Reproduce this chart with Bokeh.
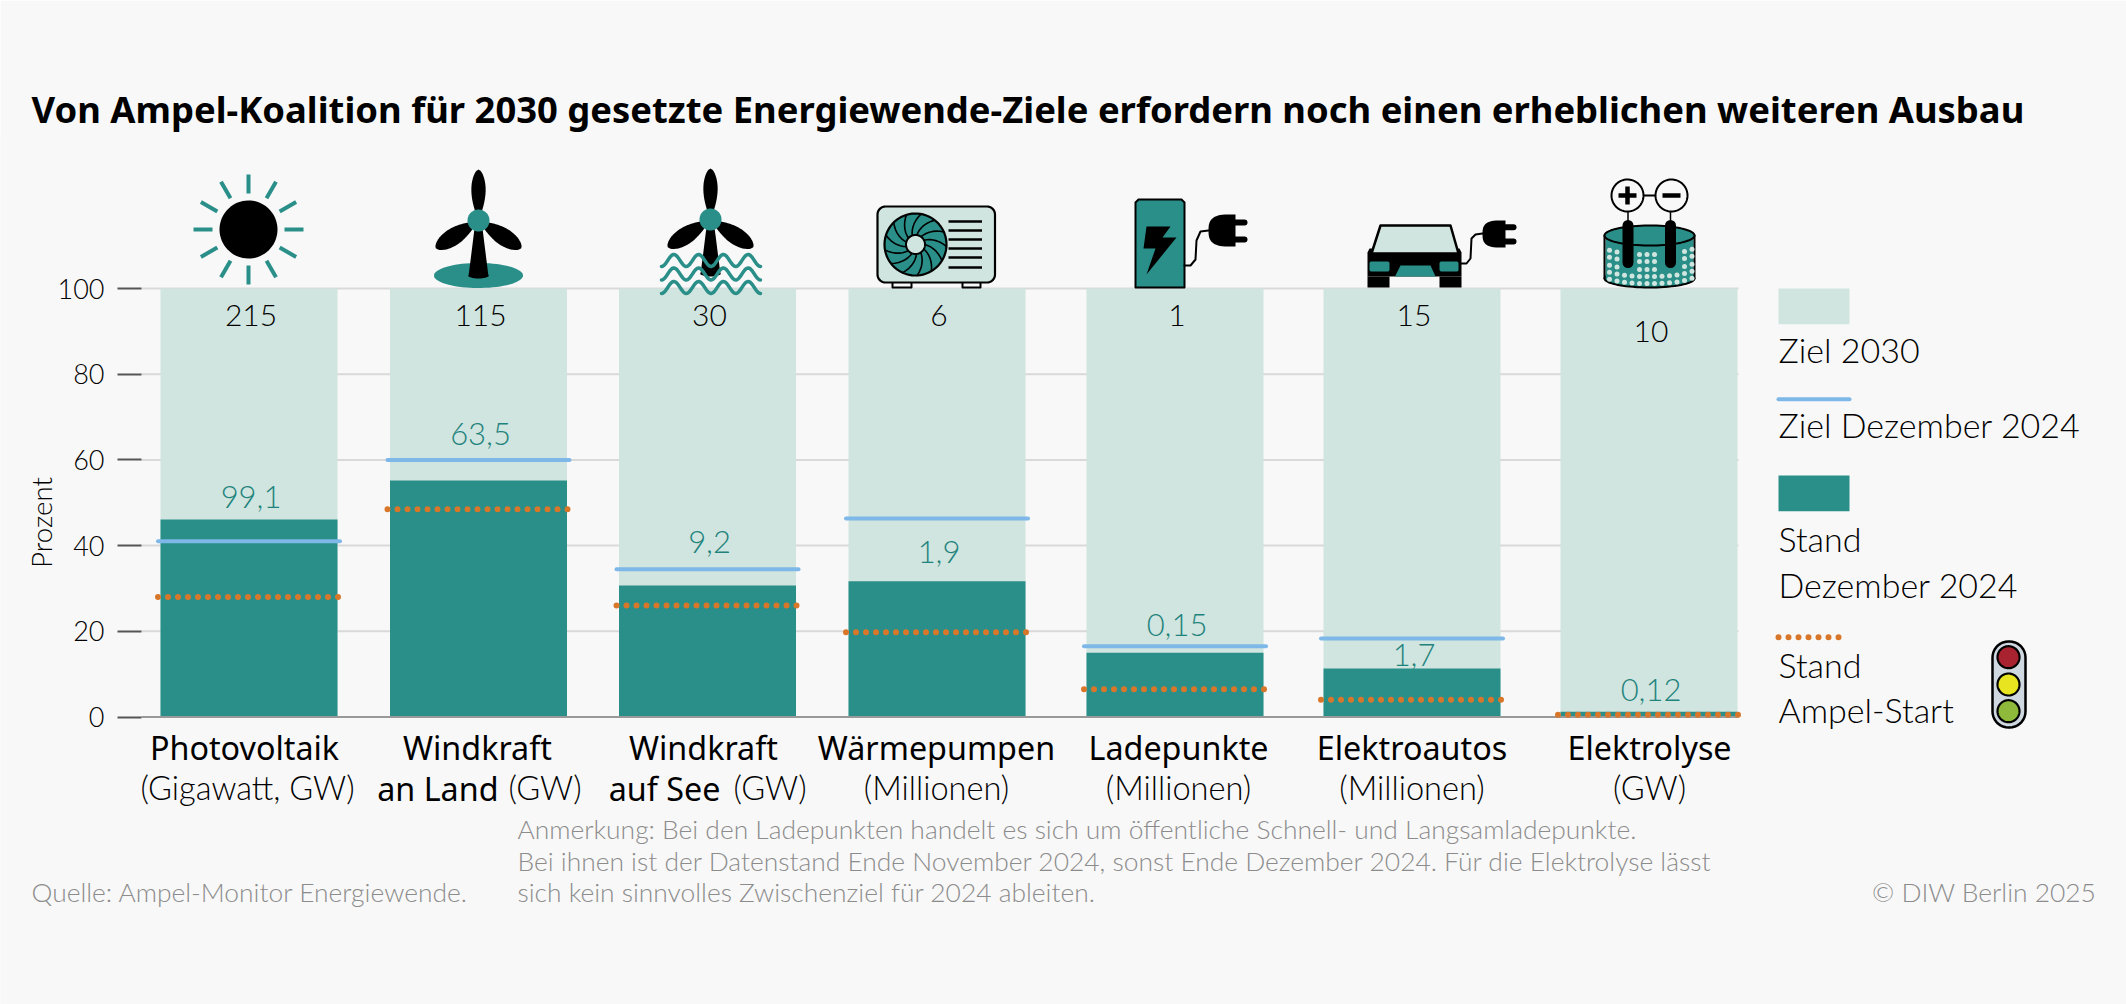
import numpy as np
from bokeh.plotting import figure
from bokeh.models import Range1d, LinearAxis, FixedTicker, Title
from bokeh.core.properties import value
from bokeh.embed import file_html
from bokeh.resources import INLINE

# ---- data
categories = ["Photovoltaik", "Windkraft", "Windkraft", "Wärmepumpen", "Ladepunkte", "Elektroautos", "Elektrolyse"]
units = ["(Gigawatt, GW)", "(GW)", "(GW)", "(Millionen)", "(Millionen)", "(Millionen)", "(GW)"]
ziel_2030_pct = [100, 100, 100, 100, 100, 100, 100]
stand_dez_2024_pct = [46.1, 55.2, 30.7, 31.7, 15.0, 11.3, 1.2]
ziel_dez_2024_pct = [41.0, 60.0, 34.5, 46.3, 16.5, 18.3, None]
stand_ampel_start_pct = [28.0, 48.5, 26.0, 19.8, 6.5, 4.0, 0.5]
ziel_2030_labels = ["215", "115", "30", "6", "1", "15", "10"]
stand_labels = ["99,1", "63,5", "9,2", "1,9", "0,15", "1,7", "0,12"]
y_ticks = [0, 20, 40, 60, 80, 100]

# ---- layout (page pixels)
W, H = 2126, 1004
FT = 134                                  # frame top on the page
AX_X = 141
Y0, Y100 = 716.5, 288.0
bar_centers = [248.5, 478, 707, 936.5, 1174.5, 1411.5, 1648.5]
label_centers = [244, 477, 703, 936, 1178, 1411.5, 1649]
value_label_mid = [496, 433, 541, 551, 624, 654, 689]   # page y of the text centre
target_label_mid = [315, 315, 315, 315, 315, 315, 331]
BAR_W = 177

BG = "#f8f8f8"; LIGHT = "#d0e5df"; TEAL = "#2a8f89"; BLUE = "#7db8e8"; ORANGE = "#d8772a"
INK = "#000000"; GREY = "#8c8c8c"; GRID = "#d9d9d9"; TEAL_TXT = "#1f837d"
FONT = "Lato Light, Lato"
FONT_R = "Noto Sans"

per = (Y0 - Y100) / 100.0
p = figure(width=W, height=H, output_backend="svg", toolbar_location=None,
           x_range=Range1d(0, W),
           y_range=Range1d(-(H - Y0) / per, (Y0 - FT) / per),
           min_border_left=0, min_border_right=0, min_border_top=FT, min_border_bottom=0,
           background_fill_color=BG, border_fill_color=BG, outline_line_color=None,
           x_axis_type=None, y_axis_type=None)
p.extra_y_ranges["page"] = Range1d(H, FT)
p.grid.visible = False

ax = LinearAxis(ticker=FixedTicker(ticks=y_ticks), bounds=(0, 100), axis_line_color=None,
                fixed_location=AX_X,
                major_tick_in=0, major_tick_out=24, minor_tick_line_color=None,
                major_tick_line_color="#555555", major_tick_line_width=2,
                major_label_text_font=FONT, major_label_text_font_size="27px",
                major_label_text_color=INK, major_label_standoff=13)
p.add_layout(ax, "left")

p.title = Title(text="Von Ampel-Koalition für 2030 gesetzte Energiewende-Ziele erfordern noch einen erheblichen weiteren Ausbau",
                text_font=FONT_R, text_font_style="bold", text_font_size="36.4px", text_color="#000000",
                align="left", offset=31, standoff=2)

# ---- gridlines
tick_y = [t for t in y_ticks if t > 0]
p.segment(x0=[AX_X] * len(tick_y), x1=[1738] * len(tick_y), y0=tick_y, y1=tick_y, line_color=GRID, line_width=2)

# ---- bars
p.vbar(x=bar_centers, width=BAR_W, bottom=0, top=ziel_2030_pct, fill_color=LIGHT, line_color=None)
p.vbar(x=bar_centers, width=BAR_W, bottom=0, top=stand_dez_2024_pct, fill_color=TEAL, line_color=None)
p.segment(x0=[AX_X], x1=[1738], y0=[0], y1=[0], line_color="#999999", line_width=2)

idx = [i for i, v in enumerate(ziel_dez_2024_pct) if v is not None]
p.segment(x0=[bar_centers[i] - 91 for i in idx], x1=[bar_centers[i] + 91 for i in idx],
          y0=[ziel_dez_2024_pct[i] for i in idx], y1=[ziel_dez_2024_pct[i] for i in idx],
          line_color=BLUE, line_width=4, line_cap="round")
p.segment(x0=[c - 91 for c in bar_centers], x1=[c + 91 for c in bar_centers],
          y0=stand_ampel_start_pct, y1=stand_ampel_start_pct,
          line_color=ORANGE, line_width=6, line_dash="0 10", line_cap="round")

# ---- helpers on the page range
def mid(x, y, s, size, color=INK, font=FONT, align="left", angle=0.0):
    p.text(x=[x], y=[y], text=[s], y_range_name="page", text_font=value(font), text_font_size=value(f"{size}px"),
           text_color=color, text_align=align, text_baseline="middle", angle=angle)

def txt(x, base, s, size, color=INK, font=FONT, align="left"):
    mid(x, base - 0.36 * size, s, size, color, font, align)

def poly(xs, ys, fill=None, line=None, lw=2):
    p.patch(list(xs), list(ys), y_range_name="page", fill_color=fill, fill_alpha=1 if fill else 0,
            line_color=line, line_width=lw, line_join="round")

def ell(cx, cy, rx, ry, fill=None, line=None, lw=2):
    t = np.linspace(0, 2 * np.pi, 72)
    poly(cx + rx * np.cos(t), cy + ry * np.sin(t), fill, line, lw)

def stroke(xs, ys, color="#000000", lw=2, cap="round"):
    p.line(list(xs), list(ys), y_range_name="page", line_color=color, line_width=lw, line_cap=cap, line_join="round")

def rrect(x0, y0, x1, y1, r, fill=None, line=None, lw=2):
    xs, ys = [], []
    for cx, cy, a in [(x1 - r, y0 + r, -np.pi / 2), (x1 - r, y1 - r, 0), (x0 + r, y1 - r, np.pi / 2), (x0 + r, y0 + r, np.pi)]:
        t = np.linspace(a, a + np.pi / 2, 10)
        xs += list(cx + r * np.cos(t)); ys += list(cy + r * np.sin(t))
    poly(xs, ys, fill, line, lw)

def blade(cx, cy, deg, length, width, start=6):
    a = np.radians(deg)
    d = np.array([np.cos(a), np.sin(a)]); n = np.array([-d[1], d[0]])
    s = np.linspace(0, 1, 40)
    prof = width / 2 * np.sin(np.pi * s ** 1.3) ** 0.55 + 1.5 * (1 - s)
    r = start + s * (length - start)
    left = np.outer(r, d) + np.outer(prof, n)
    right = np.outer(r, d) - np.outer(prof, n)
    pts = np.vstack([left, right[::-1]])
    poly(cx + pts[:, 0], cy + pts[:, 1], "#000000", None)

def turbine(cx, cy, base):
    poly([cx - 3, cx + 3, cx + 10, cx - 10], [cy, cy, base, base], "#000000", None)
    ell(cx, base - 1, 10, 3, "#000000")
    blade(cx, cy, -90, 51, 13)
    blade(cx, cy, 147, 51, 16)
    blade(cx, cy, 33, 51, 16)
    ell(cx, cy, 11, 11, TEAL)

def plug(x0, x1, y0, y1, prong):
    ym = (y0 + y1) / 2; ry = (y1 - y0) / 2
    t = np.linspace(np.pi / 2, 3 * np.pi / 2, 30)
    cx = np.cos(t); sy = np.sin(t)
    px = x1 - 6 + (x1 - x0 - 6) * np.sign(cx) * np.abs(cx) ** 0.7
    py = ym + ry * np.sign(sy) * np.abs(sy) ** 0.7
    poly(list(px) + [x1, x1], list(py) + [y0, y1], "#000000", None)
    for f in (0.25, 0.78):
        y = y0 + f * (y1 - y0)
        stroke([x1, x1 + prong], [y, y], "#000000", 6, "round")

# ---- icons
# sun
for deg in range(0, 360, 30):
    a = np.radians(deg)
    stroke([248 + 36 * np.cos(a), 248 + 55 * np.cos(a)], [229 + 36 * np.sin(a), 229 + 55 * np.sin(a)], TEAL, 4, "butt")
ell(248, 229, 29, 29, "#000000")

# onshore wind
ell(478, 275, 44.5, 12.5, TEAL)
turbine(478, 220, 276)

# offshore wind
turbine(710, 219, 274)
for wy in (260, 273.5, 287):
    sx = np.linspace(661, 760, 90)
    sy = wy + 6 * np.cos(2 * np.pi * (sx - 661) / 24.75)
    stroke(sx, sy, TEAL, 3.5)

# heat pump
rrect(892, 280, 911, 287, 0.1, BG, "#000000", 2)
rrect(962, 280, 980, 287, 0.1, BG, "#000000", 2)
rrect(877, 206, 994.5, 282, 8, LIGHT, "#000000", 2.2)
ell(915, 244, 31, 31, TEAL, "#000000", 2.2)
for k in range(13):
    a = k * 2 * np.pi / 13
    t = np.linspace(0, 1, 8)
    r = 9 + t * 22
    th = a + 0.55 * t
    stroke(915 + r * np.cos(th), 244 + r * np.sin(th), "#000000", 1.6)
ell(915, 244, 9.5, 9.5, LIGHT, "#000000", 2)
for ly in (221, 230, 239, 248, 257, 267):
    stroke([948, 981.5], [ly, ly], "#000000", 2.6, "butt")

# charging point
poly([1135, 1135, 1138, 1181, 1184, 1184], [287, 202, 199, 199, 202, 287], TEAL, "#000000", 2)
poly([1146, 1170, 1162, 1176, 1146, 1155, 1143], [226, 226, 237, 237, 274, 248, 248], "#000000", None)
stroke([1184, 1190, 1195, 1196, 1200, 1208], [265, 265, 259, 240, 231, 230], "#000000", 2)
plug(1208, 1235, 214, 246, 9)

# electric car
stroke([1461, 1466, 1470, 1471, 1475, 1482], [263, 263, 258, 238, 234, 233], "#000000", 2)
plug(1482, 1505, 220, 247, 8)
poly([1367, 1367, 1369, 1459, 1461, 1461], [276, 252, 248, 248, 252, 276], "#000000", None)
poly([1367, 1389, 1389, 1367], [276, 276, 287, 287], "#000000", None)
poly([1439, 1461, 1461, 1439], [276, 276, 287, 287], "#000000", None)
poly([1380, 1450, 1458, 1371], [225, 225, 253, 253], LIGHT, "#000000", 2.5)
rrect(1369, 261, 1389, 271, 2, TEAL)
rrect(1439, 261, 1458, 271, 2, TEAL)
poly([1400, 1430, 1435, 1394.5], [265, 265, 276, 276], TEAL)

# electrolysis
ell(1649, 278, 45, 9, TEAL, "#000000", 2)
poly([1605, 1693, 1693, 1605], [235, 235, 278, 278], TEAL, None)
stroke([1604, 1604], [235, 278], "#000000", 2)
stroke([1694, 1694], [235, 278], "#000000", 2)
ell(1649, 235, 45, 10, TEAL, "#000000", 2)
drops_x, drops_y = [], []
row_y = [250, 257, 265, 272, 279]
for ri, ry in enumerate(row_y):
    for x in np.arange(1609, 1692, 7.5):
        off = 0.9 * np.sqrt(max(0, 1 - ((x - 1649) / 45) ** 2)) * 9
        if ri < 3 and (1618 < x < 1637 or 1660 < x < 1680):
            continue
        drops_x.append(x); drops_y.append(ry + off - 4)
p.scatter(drops_x, drops_y, y_range_name="page", size=5, marker="circle", fill_color=LIGHT, line_color=None)
stroke([1627.5, 1627.5], [225, 262], "#000000", 11)
stroke([1670, 1670], [225, 262], "#000000", 11)
stroke([1627.5, 1627.5], [210, 222], "#000000", 1.5)
stroke([1670, 1670], [210, 222], "#000000", 1.5)
stroke([1640, 1660], [195, 195], "#000000", 2)
ell(1627, 195, 16, 16, BG, "#000000", 2)
ell(1671, 195, 16, 16, BG, "#000000", 2)
stroke([1618, 1636], [195, 195], "#000000", 4.5, "butt")
stroke([1627, 1627], [186, 204], "#000000", 4.5, "butt")
stroke([1662, 1680], [195, 195], "#000000", 4.5, "butt")

# ---- value labels
for c, s, m in zip(bar_centers, ziel_2030_labels, target_label_mid):
    mid(c + 2, m, s, 30, INK, FONT, "center")
for c, s, m in zip(bar_centers, stand_labels, value_label_mid):
    mid(c + 2, m, s, 31, TEAL_TXT, FONT, "center")

# ---- category labels
CAT = 32.3; UNIT = 32.6
for name, c in zip(categories, label_centers):
    txt(c, 758, name, CAT, "#000000", FONT_R, "center")
txt(247, 799, units[0], UNIT, INK, FONT, "center")
txt(498, 799, "an Land", CAT, "#000000", FONT_R, "right")
txt(508, 799, units[1], UNIT, INK, FONT, "left")
txt(720, 799, "auf See", CAT, "#000000", FONT_R, "right")
txt(733, 799, units[2], UNIT, INK, FONT, "left")
for i in (3, 4, 5, 6):
    txt(label_centers[i], 799, units[i], UNIT, INK, FONT, "center")

mid(41, 522, "Prozent", 27.7, INK, FONT, "center", angle=np.pi / 2)

# ---- legend (drawn by hand: text sits under each key)
p.quad(left=[1778], right=[1849], top=[288], bottom=[323.7], y_range_name="page", fill_color=LIGHT, line_color=None)
p.quad(left=[1778], right=[1849], top=[475], bottom=[510.7], y_range_name="page", fill_color=TEAL, line_color=None)
stroke([1778, 1849], [398.7, 398.7], BLUE, 4)
p.line([1778, 1841], [636.7, 636.7], y_range_name="page", line_color=ORANGE, line_width=6, line_dash="0 10", line_cap="round")
LF = 34
txt(1778, 361.7, "Ziel 2030", LF)
txt(1778, 436.7, "Ziel Dezember 2024", LF)
txt(1778, 550, "Stand", LF)
txt(1778, 596, "Dezember 2024", LF)
txt(1778, 676.7, "Stand", LF)
txt(1778, 721.7, "Ampel-Start", LF)

# traffic light
rrect(1992, 641, 2025, 727, 16, "#cfd8e0", "#000000", 2.5)
ell(2008, 656.7, 11, 11, "#a8232f", "#000000", 2.2)
ell(2008, 684, 11, 11, "#e8e41f", "#000000", 2.2)
ell(2008, 710.7, 11, 11, "#8fb93a", "#000000", 2.2)

# ---- footer
FOOT = 26.4
txt(31, 901, "Quelle: Ampel-Monitor Energiewende.", FOOT, GREY)
txt(517, 838, "Anmerkung: Bei den Ladepunkten handelt es sich um öffentliche Schnell- und Langsamladepunkte.", FOOT, GREY)
txt(517, 870, "Bei ihnen ist der Datenstand Ende November 2024, sonst Ende Dezember 2024. Für die Elektrolyse lässt", FOOT, GREY)
txt(517, 901, "sich kein sinnvolles Zwischenziel für 2024 ableiten.", FOOT, GREY)
txt(2096, 901, "© DIW Berlin 2025", FOOT, GREY, FONT, "right")

open("out.html", "w").write(file_html(p, INLINE))
